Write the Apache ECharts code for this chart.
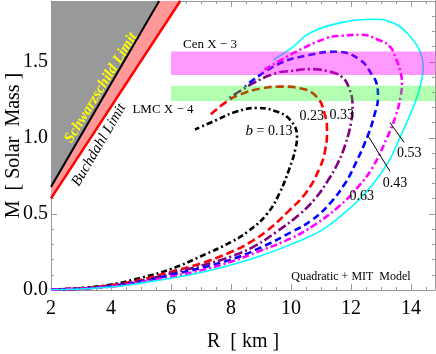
<!DOCTYPE html>
<html><head><meta charset="utf-8">
<script src="https://cdn.jsdelivr.net/npm/echarts@6/dist/echarts.min.js"></script>
<style>html,body{margin:0;padding:0;background:#fff}#c{width:436px;height:354px}</style>
</head><body><div id="c"></div>
<script>
// ---- data (R [km], M [solar mass]) ----
const xTickValues = [2, 4, 6, 8, 10, 12, 14];
const yTickValues = [0.0, 0.5, 1.0, 1.5];

const curveB013 = [[2,0.003],[3,0.013],[4,0.036],[5,0.08],[6,0.138],[7,0.222],[8,0.315],[8.6,0.39],[9.2,0.5],[9.6,0.63],[9.95,0.8],[10.15,0.93],[10.2,1.01],[9.97,1.118],[9.52,1.173],[8.86,1.197],[8.19,1.173],[7.52,1.118],[6.8,1.055]];
const curveB023 = [[2,0.003],[3,0.011],[4,0.031],[5,0.068],[6,0.12],[7,0.175],[8,0.25],[8.6,0.31],[9.2,0.39],[9.9,0.515],[10.5,0.64],[10.95,0.8],[11.15,0.93],[11.2,1.05],[11.12,1.16],[10.86,1.27],[10.3,1.327],[9.7,1.337],[9.0,1.325],[8.3,1.285],[7.9,1.245],[7.3,1.15]];
const curveB033 = [[2,0.003],[3,0.01],[4,0.028],[5,0.06],[6,0.11],[7,0.16],[8,0.22],[8.8,0.29],[9.5,0.38],[10.3,0.5],[10.8,0.6],[11.2,0.71],[11.55,0.83],[11.8,0.95],[12.0,1.1],[12.05,1.22],[11.95,1.32],[11.7,1.4],[11.2,1.44],[10.6,1.452],[10.0,1.44],[9.5,1.425],[8.74,1.36],[7.86,1.25]];
const curveB043 = [[2,0.003],[3,0.009],[4,0.025],[5,0.055],[6,0.099],[7,0.145],[8,0.2],[9,0.28],[10,0.38],[10.7,0.46],[11.3,0.57],[11.8,0.7],[12.1,0.81],[12.55,1.01],[12.78,1.15],[12.9,1.27],[12.85,1.36],[12.74,1.403],[12.3,1.513],[11.52,1.566],[10.63,1.546],[9.52,1.48],[8.47,1.338]];
const curveB053 = [[2,0.002],[3,0.008],[4,0.022],[5,0.05],[6,0.088],[7,0.13],[8,0.186],[9,0.26],[10,0.34],[10.8,0.43],[11.6,0.55],[12.2,0.67],[12.7,0.8],[13.2,1.0],[13.5,1.15],[13.65,1.27],[13.7,1.36],[13.63,1.447],[13.5,1.52],[13.3,1.6],[12.97,1.64],[12.3,1.678],[11.7,1.672],[11.19,1.656],[10.08,1.557],[9.02,1.436]];
const curveB063 = [[2,0.002],[3,0.007],[4,0.02],[5,0.045],[6,0.077],[7,0.115],[8,0.164],[9,0.225],[10,0.3],[11,0.39],[11.86,0.52],[12.4,0.62],[12.9,0.74],[13.3,0.86],[13.63,1.0],[13.9,1.12],[14.15,1.24],[14.33,1.36],[14.41,1.47],[14.3,1.57],[13.97,1.667],[13.41,1.755],[12.7,1.78],[11.86,1.765],[10.63,1.69],[10.08,1.6],[9.41,1.513]];

const schwarzschildLine = [[2, 0.678], [5.605, 1.9]];
const buchdahlLine = [[2, 0.602], [6.308, 1.9]];
const limitTop = 1.9;

// observed mass bands [Rfrom, Mlow, Rto, Mhigh]
const cenX3Band = [6, 1.414, 14.8, 1.568];
const lmcX4Band = [6, 1.243, 14.8, 1.342];

// leader lines for labels
const leader053 = [[13.3, 1.1], [13.77, 0.97]];
const leader043 = [[12.58, 1.01], [13.3, 0.78]];

const SERIF = '"Liberation Serif", "DejaVu Serif", serif';
const chart = echarts.init(document.getElementById('c'), null, {renderer: 'canvas'});

const grayPoly = [schwarzschildLine[0], schwarzschildLine[1], [2, limitTop]];
const pinkPoly = [buchdahlLine[0], buchdahlLine[1], schwarzschildLine[1], schwarzschildLine[0]];

function axisCommon(extra) {
  return Object.assign({
    type: 'value',
    nameMoveOverlap: false,
    axisLine: {show: true, onZero: false, lineStyle: {color: '#999', width: 1}},
    axisTick: {show: true, inside: true, length: 6, lineStyle: {color: '#999'}},
    minorTick: {show: true, length: 3, lineStyle: {color: '#999'}},
    splitLine: {show: false},
    minorSplitLine: {show: false}
  }, extra);
}

function curve(name, data, color, type, width) {
  return {
    name, type: 'line', data, showSymbol: false, smooth: 0.45, z: 3,
    lineStyle: {color, type, width}, emphasis: {disabled: true}, silent: true
  };
}

function txt(t, x, y, size) {
  return {type: 'text', x, y, z: 10, silent: true,
    style: {text: t, x: 0, y: 0, align: 'center', verticalAlign: 'middle', fill: '#000', font: size + 'px ' + SERIF}};
}

const option = {
  animation: false,
  grid: {left: 51, right: 1, top: 1, bottom: 64, containLabel: false, outerBoundsMode: 'none'},
  xAxis: [
    axisCommon({min: 2, max: 14.8, interval: 2, position: 'bottom',
      minorTick: {show: true, splitNumber: 4, length: 3, lineStyle: {color: '#999'}},
      axisLabel: {show: true, showMaxLabel: false, margin: 9, color: '#000', fontSize: 20, fontFamily: SERIF,
        formatter: v => xTickValues.includes(v) ? String(v) : ''},
      name: 'R  [ km ]', nameLocation: 'middle', nameGap: 42,
      nameTextStyle: {color: '#000', fontSize: 20, fontFamily: SERIF}}),
    axisCommon({min: 2, max: 14.8, interval: 2, position: 'top',
      minorTick: {show: true, splitNumber: 4, length: 3, lineStyle: {color: '#999'}},
      axisLabel: {show: false}})
  ],
  yAxis: [
    axisCommon({min: 0, max: 1.9, interval: 0.5, position: 'left',
      minorTick: {show: true, splitNumber: 5, length: 3, lineStyle: {color: '#999'}},
      axisLabel: {show: true, showMaxLabel: false, margin: 3, color: '#000', fontSize: 20, fontFamily: SERIF,
        formatter: v => yTickValues.some(t => Math.abs(t - v) < 1e-9) ? v.toFixed(1) : ''},
      name: 'M  [ Solar  Mass ]', nameLocation: 'middle', nameGap: 27,
      nameTextStyle: {color: '#000', fontSize: 20, fontFamily: SERIF}}),
    axisCommon({min: 0, max: 1.9, interval: 0.5, position: 'right',
      minorTick: {show: true, splitNumber: 5, length: 3, lineStyle: {color: '#999'}},
      axisLabel: {show: false}})
  ],
  series: [
    {
      type: 'custom', z: 1, silent: true, clip: true,
      data: [[2, 1], [2, 1]],
      renderItem: (params, api) => {
        const poly = params.dataIndex === 0 ? grayPoly : pinkPoly;
        return {type: 'polygon', shape: {points: poly.map(p => api.coord(p))},
          style: {fill: params.dataIndex === 0 ? '#999999' : '#ff9999'}};
      }
    },
    {type: 'line', data: schwarzschildLine, showSymbol: false, z: 2, silent: true,
      lineStyle: {color: '#000', width: 2}},
    {type: 'line', data: buchdahlLine, showSymbol: false, z: 2, silent: true,
      lineStyle: {color: '#ff0000', width: 2.5}},
    curve('b=0.13', curveB013, '#000000', [6, 3, 2, 3], 2.6),
    curve('b=0.23', curveB023, '#ff0000', [8, 4], 2.6),
    curve('b=0.33', curveB033, '#800080', [9, 3, 2, 3], 2.6),
    curve('b=0.43', curveB043, '#0000ff', [7, 4], 2.6),
    curve('b=0.53', curveB053, '#ff00ff', [7, 3, 2, 3], 2.6),
    curve('b=0.63', curveB063, '#00ffff', 'solid', 1.6),
    {
      type: 'custom', z: 5, silent: true, clip: true,
      encode: {x: [0, 2], y: [1, 3]},
      data: [cenX3Band, lmcX4Band],
      renderItem: (params, api) => {
        const p0 = api.coord([api.value(0), api.value(3)]);
        const p1 = api.coord([api.value(2), api.value(1)]);
        return {type: 'rect', shape: {x: p0[0], y: p0[1], width: p1[0] - p0[0], height: p1[1] - p0[1]},
          style: {fill: params.dataIndex === 0 ? 'rgba(255,0,255,0.4)' : 'rgba(0,255,0,0.3)'}};
      }
    },
    {type: 'line', data: leader053, showSymbol: false, z: 6, silent: true, lineStyle: {color: '#000', width: 1}},
    {type: 'line', data: leader043, showSymbol: false, z: 6, silent: true, lineStyle: {color: '#000', width: 1}}
  ],
  graphic: [
    txt('Cen X − 3', 210, 45, 13),
    txt('LMC X − 4', 163, 110, 13),
    {type: 'text', x: 269, y: 131, z: 10, silent: true,
      style: {text: '{i|b} = 0.13', x: 0, y: 0, align: 'center', verticalAlign: 'middle',
        fill: '#000', font: '14px ' + SERIF,
        rich: {i: {fontStyle: 'italic', fontSize: 15, fontFamily: SERIF, fill: '#000'}}}},
    txt('0.23', 311.7, 116.7, 14),
    txt('0.33', 341.7, 115, 14),
    txt('0.53', 409.3, 153.3, 14),
    txt('0.43', 395, 183.3, 14),
    txt('0.63', 361.7, 196, 14),
    txt('Quadratic + MIT  Model', 351, 277, 12),
    {type: 'text', x: 101, y: 88, rotation: 58.5 * Math.PI / 180, z: 10, silent: true,
      style: {text: 'Schwarzschild Limit', x: 0, y: 0, align: 'center', verticalAlign: 'middle',
        fill: '#ffff00', font: 'italic bold 15px ' + SERIF}},
    {type: 'text', x: 99, y: 145, rotation: 59.5 * Math.PI / 180, z: 10, silent: true,
      style: {text: 'Buchdahl Limit', x: 0, y: 0, align: 'center', verticalAlign: 'middle',
        fill: '#000', font: 'italic 15px ' + SERIF}}
  ]
};

chart.setOption(option);
</script>
</body></html>
